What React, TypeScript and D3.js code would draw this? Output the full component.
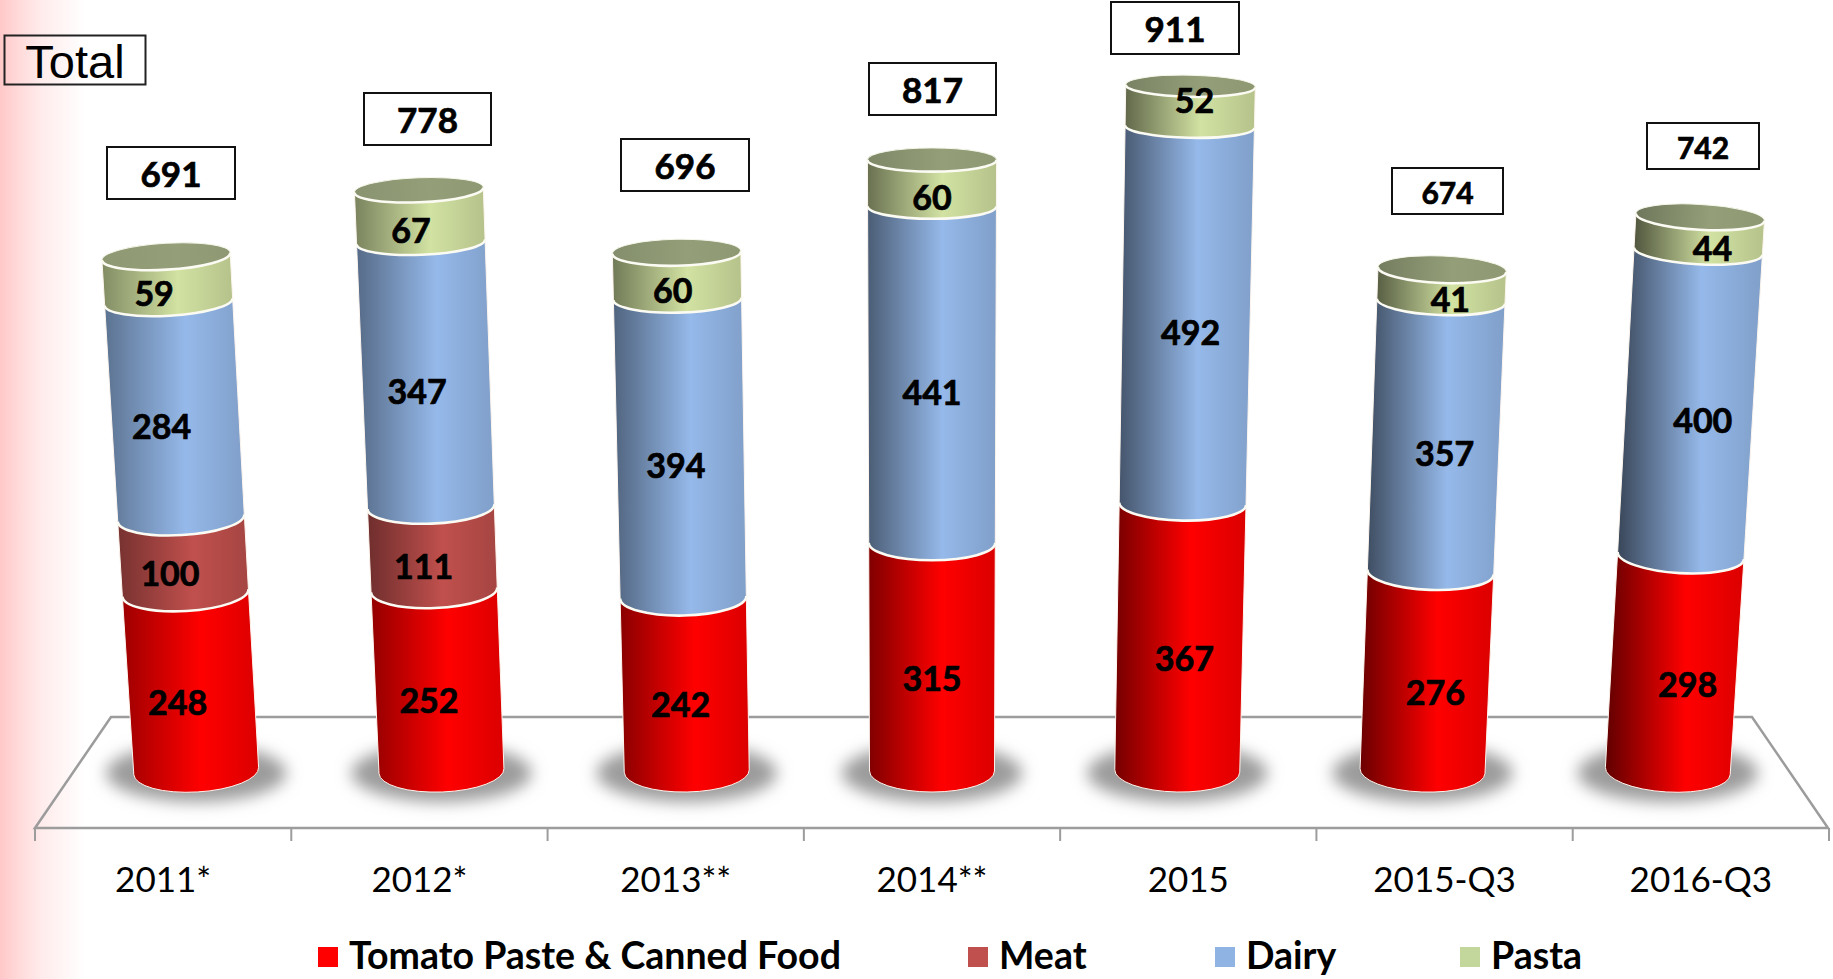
import * as d3 from 'd3';

const categories = ['2011*', '2012*', '2013**', '2014**', '2015', '2015-Q3', '2016-Q3'];
const tomato = [248, 252, 242, 315, 367, 276, 298];
const meat = [100, 111, 0, 0, 0, 0, 0];
const dairy = [284, 347, 394, 441, 492, 357, 400];
const pasta = [59, 67, 60, 60, 52, 41, 44];
const totals = [691, 778, 696, 817, 911, 674, 742];

const seriesNames = ['Tomato Paste & Canned Food', 'Meat', 'Dairy', 'Pasta'];
const seriesValues = [tomato, meat, dairy, pasta];
const seriesColors = ['#ff0000', '#c0504d', '#95b9ea', '#d2e2a2'];
const legendColors = ['#ff0000', '#c0504d', '#8fb4e3', '#c3d69b'];

// hand placed boxes in the original slide
const totalBoxes = [
  { x: 107, y: 147, w: 128, h: 52, size: 35 },
  { x: 364, y: 93, w: 127, h: 52, size: 35 },
  { x: 621, y: 139, w: 128, h: 52, size: 35 },
  { x: 869, y: 63, w: 127, h: 52, size: 35 },
  { x: 1111, y: 2, w: 128, h: 52, size: 35 },
  { x: 1392, y: 168, w: 111, h: 46, size: 30 },
  { x: 1647, y: 123, w: 112, h: 46, size: 30 },
];
const legendX = [318, 968, 1215, 1460];
const labelShift = [0, 0, -2, -4];

const W = 1833;
const H = 979;
const midX = 932;

const band = d3.scaleBand<string>().domain(categories).range([35, 1829]);
const yScale = d3.scalePow().exponent(1.035).domain([0, 911]).range([771, 86]);
const spread = d3.scaleLinear().domain([0, 911]).range([1, 1.054]);
const radius = d3.scaleLinear().domain([0, 911]).range([62.5, 64.8]);
const rySize = d3.scaleLinear().domain([0, 911]).range([21, 10.8]);
const shadeScale = d3.scaleLinear().domain([0, 6]).range([0.38, 0.62]);

const baseX = (i: number) => midX + (band(categories[i])! + band.step() / 2 - midX) * 0.957;
const axisX = (i: number, v: number) => midX + (baseX(i) - midX) * spread(v);
const tilt = (i: number) => (baseX(i) - midX) * 0.0045;

const rim = (i: number, v: number) => {
  const r = radius(v);
  const a = (tilt(i) * Math.PI) / 180;
  const cx = axisX(i, v);
  const cy = yScale(v);
  return {
    r,
    ry: rySize(v),
    cx,
    cy,
    lx: cx - r * Math.cos(a),
    ly: cy - r * Math.sin(a),
    rx: cx + r * Math.cos(a),
    ry2: cy + r * Math.sin(a),
  };
};

const segmentPath = (i: number, v0: number, v1: number) => {
  const lo = rim(i, v0);
  const hi = rim(i, v1);
  const rot = tilt(i);
  return (
    `M${hi.lx},${hi.ly} L${lo.lx},${lo.ly} ` +
    `A${lo.r},${lo.ry} ${rot} 0 0 ${lo.rx},${lo.ry2} ` +
    `L${hi.rx},${hi.ry2} ` +
    `A${hi.r},${hi.ry} ${rot} 0 1 ${hi.lx},${hi.ly} Z`
  );
};

const rimArc = (i: number, v: number) => {
  const c = rim(i, v);
  return `M${c.lx},${c.ly} A${c.r},${c.ry} ${tilt(i)} 0 0 ${c.rx},${c.ry2}`;
};

const Gradient = ({ id, color, left, right }: { id: string; color: string; left: number; right: number }) => (
  <linearGradient id={id} x1="0" x2="1" y1="0" y2="0">
    <stop offset="0" stopColor={d3.interpolateRgb(color, '#000')(left)} />
    <stop offset="0.58" stopColor={color} />
    <stop offset="1" stopColor={d3.interpolateRgb(color, '#000')(right)} />
  </linearGradient>
);

const App = () => {
  const stacks = categories.map((_, i) => {
    let acc = 0;
    return seriesValues.map((vals, s) => {
      const seg = { s, value: vals[i], v0: acc, v1: acc + vals[i] };
      acc += vals[i];
      return seg;
    });
  });

  return (
    <svg
      width={W}
      height={H}
      style={{ position: 'absolute', left: 0, top: 0, display: 'block' }}
      fontFamily="Lato"
    >
      <defs>
        <linearGradient id="sideFade" x1="0" x2="1" y1="0" y2="0">
          <stop offset="0" stopColor="#ffc8c8" />
          <stop offset="0.25" stopColor="#ffdcdc" />
          <stop offset="0.5" stopColor="#ffecec" />
          <stop offset="1" stopColor="#ffffff" />
        </linearGradient>
        <filter id="soft" x="-30%" y="-50%" width="160%" height="200%">
          <feGaussianBlur stdDeviation="8" />
        </filter>
        {categories.map((_, i) => (
          <g key={i}>
            {seriesColors.map((c, s) => (
              <Gradient key={s} id={`g${i}-${s}`} color={c} left={shadeScale(i)} right={0.14} />
            ))}
            <Gradient id={`top${i}`} color="#949f79" left={0.04 + i * 0.035} right={0.04} />
          </g>
        ))}
      </defs>

      <rect width={W} height={H} fill="#fff" />
      <rect width={85} height={H} fill="url(#sideFade)" />

      {/* floor */}
      <path d="M35,828 L111,717 L1752,717 L1828,828 Z" fill="none" stroke="#9c9c9c" strokeWidth={2.5} />
      {d3.range(categories.length + 1).map((i) => {
        const x = band.range()[0] + i * band.step();
        return <line key={i} x1={x} x2={x} y1={828} y2={841} stroke="#9c9c9c" strokeWidth={2} />;
      })}

      {categories.map((_, i) => (
        <ellipse
          key={i}
          cx={baseX(i)}
          cy={773}
          rx={90}
          ry={29}
          fill="#9b9b9b"
          filter="url(#soft)"
        />
      ))}

      {stacks.map((segs, i) => {
        const top = segs[segs.length - 1].v1;
        const t = rim(i, top);
        const shown = segs.filter((d) => d.value > 0);
        return (
          <g key={i}>
            {shown.map((d) => (
              <path
                key={d.s}
                d={segmentPath(i, d.v0, d.v1)}
                fill={`url(#g${i}-${d.s})`}
                stroke="#fdf5ee"
                strokeWidth={1}
              />
            ))}
            <ellipse
              cx={t.cx}
              cy={t.cy}
              rx={t.r}
              ry={t.ry}
              transform={`rotate(${tilt(i)} ${t.cx} ${t.cy})`}
              fill={`url(#top${i})`}
              stroke="#f4f6ea"
              strokeWidth={1}
            />
            {shown.map((d) => (
              <path key={d.s} d={rimArc(i, d.v1)} fill="none" stroke="#fbfbf3" strokeWidth={2.6} />
            ))}
          </g>
        );
      })}

      {stacks.map((segs, i) =>
        segs
          .filter((d) => d.value > 0)
          .map((d) => {
            const mid = (d.v0 + d.v1) / 2;
            // the 2015 pasta label sits up on the lid in the source
            const shift = labelShift[d.s] + (d.value === 52 ? -20 : 0);
            return (
              <text
                key={`${i}-${d.s}`}
                x={axisX(i, mid) + (baseX(i) - midX) * 0.018}
                y={yScale(mid) + 19 + shift}
                dy="0.35em"
                textAnchor="middle"
                fontSize={34}
                fontWeight={700}
                fill="#000"
                stroke="#000"
                strokeWidth={0.7}
              >
                {d.value}
              </text>
            );
          }),
      )}

      {/* total boxes */}
      {totalBoxes.map((b, i) => (
        <g key={i}>
          <rect x={b.x} y={b.y} width={b.w} height={b.h} fill="#fff" stroke="#111" strokeWidth={2} />
          <text
            x={b.x + b.w / 2}
            y={b.y + b.h / 2 + 2}
            dy="0.35em"
            textAnchor="middle"
            fontSize={b.size}
            fontWeight={700}
            stroke="#000"
            strokeWidth={0.7}
          >
            {totals[i]}
          </text>
        </g>
      ))}

      <rect x={4.5} y={35.5} width={141} height={49} fill="none" stroke="#222" strokeWidth={2} />
      <text x={75} y={78} textAnchor="middle" fontFamily="Liberation Sans" fontSize={47}>
        Total
      </text>

      {categories.map((c) => (
        <text
          key={c}
          x={band(c)! + band.step() / 2}
          y={880}
          dy="0.35em"
          textAnchor="middle"
          fontSize={35}
          fill="#000"
        >
          {c}
        </text>
      ))}

      {seriesNames.map((name, s) => (
        <g key={name}>
          <rect x={legendX[s]} y={947} width={20} height={20} fill={legendColors[s]} />
          <text x={legendX[s] + 31} y={969} fontSize={37.5} fontWeight={700} fill="#000">
            {name}
          </text>
        </g>
      ))}
    </svg>
  );
};

export default App;
